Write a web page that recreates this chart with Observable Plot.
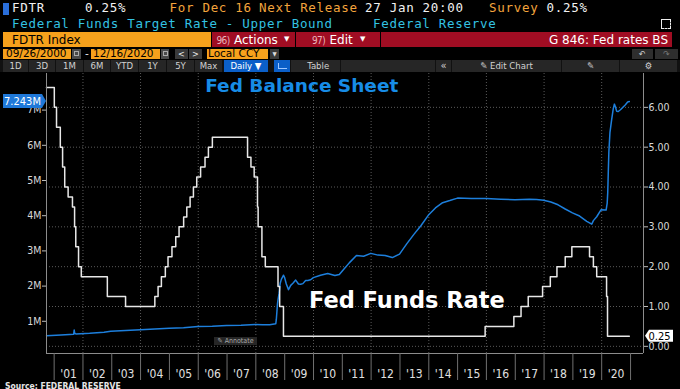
<!DOCTYPE html>
<html><head><meta charset="utf-8">
<script src="https://cdn.jsdelivr.net/npm/d3@7"></script>
<script src="https://cdn.jsdelivr.net/npm/@observablehq/plot@0.6"></script>
<style>
html,body{margin:0;padding:0;background:#000;}
#wrap{position:relative;width:680px;height:389px;overflow:hidden;background:#000;font-family:"DejaVu Sans Condensed","DejaVu Sans",sans-serif;}
#hdr{position:relative;height:72px;}
.a{position:absolute;white-space:pre;line-height:1;}
.mono{font-family:"DejaVu Sans Mono",monospace;font-size:12.5px;letter-spacing:0.7px;}
.w{color:#f2f2f2}.o{color:#f3a43c}.c{color:#33c3e3}
.bar{position:absolute;top:32px;height:15px;}
.ui{font-family:"DejaVu Sans",sans-serif;font-size:12px;}
.num{font-family:"DejaVu Sans Condensed","DejaVu Sans",sans-serif;font-size:10px;letter-spacing:-0.6px;color:#eab4bc;}
.r4{font-family:"DejaVu Sans",sans-serif;font-size:10.5px;color:#000;}
.box4{position:absolute;top:49px;height:10px;}
.btn{position:absolute;top:60px;height:12px;background:#262626;color:#d2d2d2;font-size:9.5px;line-height:12px;text-align:center;white-space:pre;}
#src{position:absolute;left:5px;top:381.5px;font-family:"DejaVu Sans Condensed","DejaVu Sans",sans-serif;font-weight:bold;font-size:8.5px;color:#e6e6e6;line-height:1;}
</style></head>
<body>
<div id="wrap">
<div id="hdr">
  <div style="position:absolute;left:3px;top:3px;width:6px;height:12px;background:#2a6fdb"></div>
  <span class="a mono w" style="left:12px;top:2px">FDTR</span>
  <span class="a mono w" style="left:85px;top:2px">0.25%</span>
  <span class="a mono o" style="left:169.5px;top:2px">For Dec 16</span>
  <span class="a mono o" style="left:259px;top:2px">Next Release</span>
  <span class="a mono w" style="left:365px;top:2px">27 Jan 20:00</span>
  <span class="a mono o" style="left:489px;top:2px">Survey</span>
  <span class="a mono w" style="left:546.5px;top:2px">0.25%</span>
  <span class="a mono c" style="left:12px;top:17.7px">Federal Funds Target Rate - Upper Bound</span>
  <span class="a mono c" style="left:373px;top:17.7px">Federal Reserve</span>
  <div style="position:absolute;left:661px;top:19px;width:8px;height:8px;border:1.5px solid #eee;border-right-style:dashed;border-bottom-style:dashed"></div>

  <div class="bar" style="left:3px;width:208px;background:#f6a11c"></div>
  <div class="bar" style="left:212px;width:83px;background:#a00d23"></div>
  <div class="bar" style="left:296px;width:84px;background:#a00d23"></div>
  <div class="bar" style="left:381px;width:291px;background:#a00d23"></div>
  <span class="a ui" style="left:12px;top:33.8px;color:#000">FDTR Index</span>
  <span class="a num" style="left:216.5px;top:35.5px">96)</span>
  <span class="a ui" style="left:234px;top:33.8px;color:#fff">Actions</span>
  <span class="a ui" style="left:284px;top:35.5px;color:#fff;font-size:7px">▼</span>
  <span class="a num" style="left:312px;top:35.5px">97)</span>
  <span class="a ui" style="left:329.5px;top:33.8px;color:#fff">Edit</span>
  <span class="a ui" style="left:360px;top:35.5px;color:#fff;font-size:7px">▼</span>
  <span class="a ui" style="right:12px;top:33.8px;color:#fff">G 846: Fed rates BS</span>

  <div class="box4" style="left:3px;width:68px;background:#f6a11c"></div>
  <span class="a r4" style="left:6px;top:48.4px">09/26/2000</span>
  <div class="box4" style="left:72px;width:9px;background:#4a4a4a"><div style="margin:2px 2px;width:5px;height:5px;border:1px solid #aaa;box-sizing:border-box"></div></div>
  <span class="a r4" style="left:85px;top:48.4px;color:#eee">-</span>
  <div class="box4" style="left:91px;width:69px;background:#f6a11c"></div>
  <span class="a r4" style="left:93px;top:48.4px">12/16/2020</span>
  <div class="box4" style="left:161px;width:8px;background:#4a4a4a"><div style="margin:2px 1.5px;width:5px;height:5px;border:1px solid #aaa;box-sizing:border-box"></div></div>
  <div class="box4" style="left:175px;width:13px;background:#3a3a3a;color:#eee;font-size:9px;line-height:10px;text-align:center">&lt;</div>
  <div class="box4" style="left:189px;width:13px;background:#3a3a3a;color:#eee;font-size:9px;line-height:10px;text-align:center">&gt;</div>
  <div class="box4" style="left:207px;width:61px;background:#f6a11c"></div>
  <span class="a r4" style="left:208px;top:48.4px">Local CCY</span>
  <div class="box4" style="left:270px;width:9px;background:#3a3a3a;color:#ddd;font-size:6px;line-height:10px;text-align:center">▼</div>
  <div class="box4" style="left:632px;width:21px;background:#2e2e2e;color:#ccc;font-size:9px;line-height:10px;text-align:center">↶</div>
  <div class="box4" style="left:655px;width:23px;background:#2e2e2e;color:#777;font-size:9px;line-height:10px;text-align:center">↷</div>

  <div style="position:absolute;left:0;top:60px;width:680px;height:12px;background:#111"></div>
  <div class="btn" style="left:3px;width:25px">1D</div>
  <div class="btn" style="left:29px;width:26px">3D</div>
  <div class="btn" style="left:56px;width:27px">1M</div>
  <div class="btn" style="left:84px;width:26px">6M</div>
  <div class="btn" style="left:111px;width:27px">YTD</div>
  <div class="btn" style="left:139px;width:27px">1Y</div>
  <div class="btn" style="left:167px;width:27px">5Y</div>
  <div class="btn" style="left:195px;width:27px">Max</div>
  <div class="btn" style="left:224px;width:44px;background:#0b5fc8;color:#fff">Daily ▼</div>
  <div class="btn" style="left:274px;width:16px;background:#0b5fc8"><div style="margin:3px 0 0 4px;width:8px;height:5px;border-left:1px solid #9cc6ff;border-bottom:1px solid #9cc6ff"></div></div>
  <div class="btn" style="left:291px;width:49px">  Table</div>
  <div class="btn" style="left:341px;width:94px"></div>
  <div class="btn" style="left:436px;width:15px;font-size:11px">«</div>
  <div class="btn" style="left:452px;width:109px">✎ Edit Chart</div>
  <div class="btn" style="left:562px;width:57px">✎</div>
  <div class="btn" style="left:620px;width:57px">⚙</div>
</div>
<div id="chart"></div>
<div style="position:absolute;left:214px;top:337px;width:43px;height:8px;background:#262626;color:#a8a8a8;font-size:7px;line-height:8px;white-space:pre;text-align:center">✎ Annotate</div>
<div id="src">Source: FEDERAL RESERVE</div>
</div>
<script>
// Fed funds target rate, upper bound (%), change dates
const ffrDates = ["2000-09-26","2001-01-03","2001-01-31","2001-03-20","2001-04-18","2001-05-15","2001-06-27","2001-08-21","2001-09-17","2001-10-02","2001-11-06","2001-12-11","2002-11-06","2003-06-25","2004-06-30","2004-08-10","2004-09-21","2004-11-10","2004-12-14","2005-02-02","2005-03-22","2005-05-03","2005-06-30","2005-08-09","2005-09-20","2005-11-01","2005-12-13","2006-01-31","2006-03-28","2006-05-10","2006-06-29","2007-09-18","2007-10-31","2007-12-11","2008-01-22","2008-01-30","2008-03-18","2008-04-30","2008-10-08","2008-10-29","2008-12-16","2015-12-16","2016-12-14","2017-03-15","2017-06-14","2017-12-13","2018-03-21","2018-06-13","2018-09-26","2018-12-19","2019-07-31","2019-09-18","2019-10-30","2020-03-03","2020-03-15","2020-12-16"];
const ffrRates = [6.5,6.0,5.5,5.0,4.5,4.0,3.75,3.5,3.0,2.5,2.0,1.75,1.25,1.0,1.25,1.5,1.75,2.0,2.25,2.5,2.75,3.0,3.25,3.5,3.75,4.0,4.25,4.5,4.75,5.0,5.25,4.75,4.5,4.25,3.5,3.0,2.25,2.0,1.5,1.0,0.25,0.5,0.75,1.0,1.25,1.5,1.75,2.0,2.25,2.5,2.25,2.0,1.75,1.25,0.25,0.25];

// Fed balance sheet (millions of $ millions, shown as "M")
const bsDates = ["2000-09-27","2001-03-28","2001-09-05","2001-09-12","2001-09-19","2001-10-03","2002-03-27","2002-09-25","2002-12-18","2003-06-25","2003-12-31","2004-06-30","2004-12-29","2005-06-29","2005-12-28","2006-06-28","2006-12-27","2007-06-27","2007-12-26","2008-03-26","2008-06-25","2008-09-10","2008-09-17","2008-09-24","2008-10-01","2008-10-08","2008-10-22","2008-11-05","2008-11-19","2008-12-17","2008-12-31","2009-01-21","2009-02-18","2009-03-18","2009-04-15","2009-05-20","2009-06-24","2009-07-22","2009-08-19","2009-09-23","2009-10-21","2009-11-25","2009-12-30","2010-03-31","2010-06-30","2010-09-29","2010-11-24","2010-12-29","2011-03-30","2011-06-29","2011-09-28","2011-12-28","2012-03-28","2012-06-27","2012-09-26","2012-12-26","2013-03-27","2013-06-26","2013-09-25","2013-12-25","2014-03-26","2014-06-25","2014-09-24","2014-12-31","2015-06-24","2015-12-30","2016-06-29","2016-12-28","2017-06-28","2017-09-27","2017-12-27","2018-03-28","2018-06-27","2018-09-26","2018-12-26","2019-03-27","2019-06-26","2019-08-28","2019-09-18","2019-10-30","2019-12-25","2020-02-26","2020-03-11","2020-03-18","2020-03-25","2020-04-01","2020-04-15","2020-05-06","2020-05-27","2020-06-10","2020-06-24","2020-07-08","2020-07-29","2020-08-26","2020-09-30","2020-10-28","2020-11-25","2020-12-16"];
const bsValues = [0.59,0.61,0.63,0.75,0.66,0.64,0.66,0.69,0.72,0.74,0.76,0.78,0.80,0.82,0.85,0.86,0.88,0.89,0.91,0.90,0.90,0.93,1.06,1.27,1.49,1.61,1.80,2.08,2.19,2.31,2.24,2.06,1.90,2.02,2.08,2.17,2.06,2.05,2.07,2.16,2.16,2.18,2.24,2.31,2.36,2.30,2.33,2.42,2.66,2.87,2.85,2.93,2.88,2.87,2.81,2.91,3.20,3.47,3.72,4.01,4.22,4.37,4.43,4.50,4.49,4.49,4.47,4.45,4.47,4.46,4.44,4.39,4.31,4.19,4.08,3.99,3.84,3.76,3.86,3.97,4.17,4.16,4.36,4.67,5.25,5.81,6.37,6.72,7.04,7.17,7.09,6.97,6.96,7.01,7.09,7.15,7.23,7.243];

const rightTicks = [0,1,2,3,4,5,6];
const leftTicks = [1,2,3,4,5,6,7];
const yearStarts = d3.range(2001, 2022);
const yearLabels = d3.range(2001, 2021);
const gridYears = [2002,2004,2006,2008,2010,2012,2014,2016,2018,2020];
const xDomain = ["2000-09-26","2021-06-14"];
const rightDomain = [-0.18, 6.85];
const leftDomain = [0.085, 8.04];
const lastBS = 7.243, lastFFR = 0.25;
const annotBS = [{label:"Fed Balance Sheet", date:"2009-08-05", value:6.53}];
const annotFFR = [{label:"Fed Funds Rate", date:"2013-03-29", value:1.15}];

const k = (rightDomain[1]-rightDomain[0])/(leftDomain[1]-leftDomain[0]);
const toRight = v => rightDomain[0] + (v - leftDomain[0]) * k;
const fromRight = r => leftDomain[0] + (r - rightDomain[0]) / k;
const D = s => new Date(s);
const Y = (y, m=0, d=1) => new Date(Date.UTC(y, m, d));

const ffr = ffrDates.map((d,i)=>({date:D(d), rate:ffrRates[i]}));
const bs = bsDates.map((d,i)=>({date:D(d), value:bsValues[i]}));

const gridStyle = {stroke:"#5a5a5a", strokeOpacity:1, strokeDasharray:"1,2", strokeWidth:1};
const plot = Plot.plot({
  width: 680, height: 310,
  marginLeft: 46, marginRight: 37, marginTop: 1, marginBottom: 29,
  style: {background:"#000", color:"#d4d4d4", fontFamily:'"DejaVu Sans Condensed","DejaVu Sans",sans-serif', fontSize:"10.5px"},
  x: {type:"utc", domain: xDomain.map(D), axis: null},
  y: {domain: rightDomain, axis: null},
  marks: [
    Plot.ruleY(rightTicks, gridStyle),
    Plot.ruleX(gridYears.map(y => Y(y)), gridStyle),
    Plot.line(bs, {x:"date", y: d => toRight(d.value), stroke:"#1d7fdc", strokeWidth:1.5}),
    Plot.line(ffr, {x:"date", y:"rate", curve:"step-after", stroke:"#e8e8e8", strokeWidth:1.5}),
    Plot.ruleX([D(xDomain[0])], {stroke:"#8c8c8c"}),
    Plot.ruleX([D(xDomain[1])], {stroke:"#8c8c8c"}),
    Plot.ruleY([rightDomain[0]], {stroke:"#8c8c8c"}),
    Plot.axisY(rightTicks, {anchor:"right", tickSize:4, tickPadding:1, tickFormat: d => d.toFixed(2), label:null, stroke:"#bbb", fill:"#d8d8d8"}),
    Plot.axisY(leftTicks.map(toRight), {anchor:"left", tickSize:4, tickPadding:1, tickFormat: d => Math.round(fromRight(d)) + "M", label:null, stroke:"#bbb", fill:"#d8d8d8"}),
    Plot.axisX(yearStarts.map(y => Y(y)), {anchor:"bottom", tickSize:27, tickFormat: () => "", label:null, stroke:"#707070"}),
    Plot.axisX(yearLabels.map(y => Y(y, 6, 2)), {anchor:"bottom", tickSize:0, tickPadding:15.5, tickFormat: d => "'" + String(d.getUTCFullYear() % 100).padStart(2, "0"), label:null, fontSize:12, fill:"#e0e0e0"}),
    Plot.text(annotBS, {x: d => D(d.date), y:"value", text:"label", fill:"#178ce6", fontSize:18.5, fontWeight:"bold", fontFamily:"DejaVu Sans"}),
    Plot.text(annotFFR, {x: d => D(d.date), y:"value", text:"label", fill:"#ffffff", fontSize:22.5, fontWeight:"bold", fontFamily:"DejaVu Sans"})
  ]
});
document.getElementById("chart").appendChild(plot);

// current-value tags on both axes, positioned with the plot's scales
const ys = plot.scale("y");
const svg = d3.select(plot);
const g = svg.append("g").attr("text-anchor", "start");
const x0 = 46, x1 = 680 - 37;
const yb = ys.apply(toRight(lastBS));
g.append("path").attr("d", `M3,${yb-7}H42L${x0},${yb}L42,${yb+7}H3Z`).attr("fill", "#1f78d8");
g.append("text").attr("x", 22.5).attr("y", yb).attr("dy", "0.36em").attr("text-anchor", "middle")
  .attr("fill", "#fff").attr("font-size", 11).text(lastBS.toFixed(3) + "M");
const yf = ys.apply(lastFFR);
g.append("path").attr("d", `M${x1+2},${yf}L${x1+6},${yf-6}H${x1+30}V${yf+6}H${x1+6}Z`).attr("fill", "#fff");
g.append("text").attr("x", x1+5.5).attr("y", yf).attr("dy", "0.36em").attr("text-anchor", "start")
  .attr("fill", "#000").attr("font-size", 11).text(lastFFR.toFixed(2));
</script>
</body></html>
